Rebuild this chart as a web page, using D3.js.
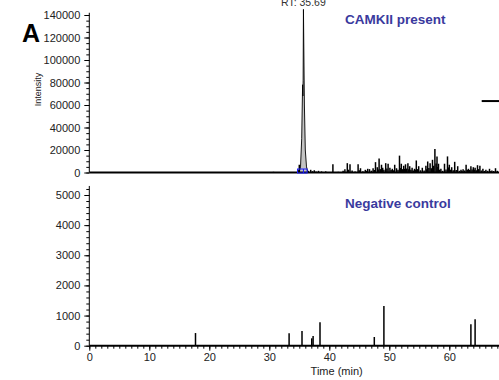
<!DOCTYPE html>
<html>
<head>
<meta charset="utf-8">
<script src="https://cdn.jsdelivr.net/npm/d3@7"></script>
<style>
  body { margin: 0; background: #fff; }
  svg { display: block; font-family: "Liberation Sans", Arial, sans-serif; }
</style>
</head>
<body>
<div id="chart"></div>
<script>
// tick labels
const timeTicks = [0, 10, 20, 30, 40, 50, 60];
const topTicks = [0, 20000, 40000, 60000, 80000, 100000, 120000, 140000];
const bottomTicks = [0, 1000, 2000, 3000, 4000, 5000];

// CAMKII present: integrated peak trace [time (min), intensity]
const peakTrace = [
  [34.95, 0], [35.2, 5000], [35.4, 30000], [35.55, 78000], [35.6, 68000],
  [35.64, 82000], [35.69, 145000], [35.85, 60000], [36.0, 20000],
  [36.2, 5000], [36.45, 0]
];
const peakRT = 35.69;
const peakBounds = [34.7, 36.3];

// CAMKII present: background spikes [time, intensity]
const topNoise = [
  [11.8, 500], [30.7, 600], [34.8, 2500], [35.0, 6900], [36.5, 1500], [36.9, 2400],
  [37.2, 1200], [37.5, 2000], [37.8, 900], [38.2, 1500], [38.7, 1000], [39.4, 1000],
  [40.6, 7400], [41.5, 600], [42.3, 1500], [42.6, 3000], [43.0, 8300], [43.2, 2500],
  [43.45, 7400], [43.8, 1800], [44.3, 1000], [44.8, 7400], [45.0, 2000], [45.2, 3800],
  [45.6, 1200], [46.0, 2400], [46.2, 1500], [46.4, 3300], [46.7, 3000], [47.0, 1600],
  [47.3, 3800], [47.5, 2200], [47.7, 9200], [48.0, 4700], [48.15, 2600], [48.3, 12500],
  [48.5, 3000], [48.7, 6900], [48.9, 4200], [49.1, 2500], [49.4, 8300], [49.6, 3500],
  [49.8, 7800], [50.1, 4200], [50.3, 2200], [50.5, 3300], [50.7, 2000], [50.9, 6900],
  [51.2, 3800], [51.45, 2500], [51.7, 15000], [51.85, 4000], [52.0, 7800], [52.2, 3000],
  [52.4, 6000], [52.55, 3200], [52.7, 7300], [52.9, 3500], [53.1, 8300], [53.25, 2800],
  [53.4, 5600], [53.6, 2500], [53.8, 4200], [54.0, 1800], [54.2, 3300], [54.35, 2500],
  [54.5, 10700], [54.7, 3000], [54.9, 5600], [55.2, 2000], [55.5, 4200], [55.8, 1800],
  [56.1, 6000], [56.25, 3000], [56.4, 9800], [56.6, 4000], [56.8, 8300], [57.0, 3800],
  [57.2, 11300], [57.4, 6000], [57.6, 21000], [57.8, 8000], [57.95, 14300], [58.1, 5000],
  [58.2, 7800], [58.4, 2500], [58.6, 3300], [58.9, 1500], [59.2, 7800], [59.45, 2600],
  [59.7, 14300], [59.85, 4500], [60.0, 6900], [60.2, 2500], [60.4, 4700], [60.65, 2000],
  [60.9, 9500], [61.15, 2200], [61.4, 5600], [61.7, 1500], [61.95, 2400], [62.1, 1400],
  [62.3, 3000], [62.55, 1800], [62.8, 6900], [63.0, 2500], [63.2, 3300], [63.4, 2200],
  [63.6, 5600], [63.8, 2600], [64.0, 4700], [64.15, 2400], [64.3, 4200], [64.5, 2000],
  [64.7, 6500], [64.9, 3000], [65.1, 6000], [65.35, 1800], [65.6, 3300], [65.85, 1400],
  [66.1, 2400], [66.4, 1500], [66.7, 3300], [66.9, 1200], [67.1, 1800], [67.4, 1300],
  [67.7, 3800], [68.0, 1500]
];

// Negative control spikes [time, intensity]
const bottomPeaks = [
  [17.7, 420], [33.3, 411], [35.45, 488], [37.07, 245], [37.3, 322],
  [38.45, 776], [47.5, 289], [49.1, 1317], [63.6, 710], [64.3, 876]
];

// cut-off marker on the right of the top panel
const markerLevel = 63500;
const markerStart = 65.4;

const width = 499, height = 380;

const svg = d3.select("#chart").append("svg")
  .attr("width", width)
  .attr("height", height);

const x = d3.scaleLinear().domain([0, 70]).range([89.3, 509.3]);
const yTop = d3.scaleLinear().domain([0, 140000]).range([172.5, 15]);
const yBot = d3.scaleLinear().domain([0, 5000]).range([345.7, 195]);

function styleAxis(g) {
  g.select(".domain").remove();
  g.selectAll("line").attr("stroke", "#000");
  g.selectAll("text").attr("fill", "#222").attr("font-size", 11)
    .attr("font-family", "'Liberation Sans', Arial, sans-serif");
}

// ---- top panel ----
svg.append("g")
  .attr("transform", "translate(" + x(0) + ",0)")
  .call(d3.axisLeft(yTop).tickValues(d3.range(0, 142500, 5000)).tickSize(3).tickFormat(""))
  .call(styleAxis);
svg.append("g")
  .attr("transform", "translate(" + x(0) + ",0)")
  .call(d3.axisLeft(yTop).tickValues(topTicks).tickSize(5).tickPadding(4).tickFormat(d3.format("d")))
  .call(styleAxis);
svg.append("line")
  .attr("x1", x(0)).attr("x2", x(0))
  .attr("y1", yTop(0)).attr("y2", yTop(142000))
  .attr("stroke", "#000");

svg.append("path")
  .datum(peakTrace)
  .attr("fill", "#c4c4c4")
  .attr("d", d3.area().x(d => x(d[0])).y0(yTop(0)).y1(d => yTop(d[1])));
svg.append("path")
  .datum(peakTrace)
  .attr("fill", "none")
  .attr("stroke", "#000")
  .attr("stroke-width", 0.9)
  .attr("d", d3.line().x(d => x(d[0])).y(d => yTop(d[1])));

svg.append("g").selectAll("line")
  .data(topNoise)
  .join("line")
  .attr("x1", d => x(d[0])).attr("x2", d => x(d[0]))
  .attr("y1", yTop(0)).attr("y2", d => yTop(d[1]))
  .attr("stroke", "#000")
  .attr("stroke-width", 1.5);

svg.append("line")
  .attr("x1", x(0)).attr("x2", width)
  .attr("y1", yTop(0)).attr("y2", yTop(0))
  .attr("stroke", "#000").attr("stroke-width", 2);

// peak boundary markers
svg.append("rect")
  .attr("x", x(peakBounds[0]))
  .attr("y", yTop(0) - 3.5)
  .attr("width", x(peakBounds[1]) - x(peakBounds[0]))
  .attr("height", 4)
  .attr("fill", "none")
  .attr("stroke", "#1a1aff")
  .attr("stroke-width", 1);
svg.append("line")
  .attr("x1", x(peakRT)).attr("x2", x(peakRT))
  .attr("y1", yTop(0) - 3.5).attr("y2", yTop(0) + 0.5)
  .attr("stroke", "#1a1aff");

svg.append("line")
  .attr("x1", x(markerStart)).attr("x2", x(70))
  .attr("y1", yTop(markerLevel)).attr("y2", yTop(markerLevel))
  .attr("stroke", "#000").attr("stroke-width", 2);

// label sits at the top edge, partly cut off as in the source figure
svg.append("text")
  .attr("x", x(peakRT)).attr("y", 6)
  .attr("text-anchor", "middle")
  .attr("font-size", 10.5)
  .attr("fill", "#333")
  .text("RT: 35.69");

svg.append("text")
  .attr("x", 345).attr("y", 24)
  .attr("font-size", 13.5).attr("font-weight", "bold")
  .attr("fill", "#3a3a9e")
  .text("CAMKII present");

svg.append("text")
  .attr("x", 22).attr("y", 42)
  .attr("font-size", 25).attr("font-weight", "bold")
  .attr("font-family", "Arial, 'Liberation Sans', sans-serif")
  .attr("fill", "#000")
  .text("A");

svg.append("text")
  .attr("transform", "translate(40.5,89.5) rotate(-90)")
  .attr("text-anchor", "middle")
  .attr("font-size", 9)
  .attr("fill", "#222")
  .text("Intensity");

// ---- bottom panel ----
svg.append("g")
  .attr("transform", "translate(" + x(0) + ",0)")
  .call(d3.axisLeft(yBot).tickValues(d3.range(0, 5201, 200)).tickSize(3).tickFormat(""))
  .call(styleAxis);
svg.append("g")
  .attr("transform", "translate(" + x(0) + ",0)")
  .call(d3.axisLeft(yBot).tickValues(bottomTicks).tickSize(5).tickPadding(4).tickFormat(d3.format("d")))
  .call(styleAxis);
svg.append("line")
  .attr("x1", x(0)).attr("x2", x(0))
  .attr("y1", yBot(0)).attr("y2", yBot(5300))
  .attr("stroke", "#000");

svg.append("g").selectAll("line")
  .data(bottomPeaks)
  .join("line")
  .attr("x1", d => x(d[0])).attr("x2", d => x(d[0]))
  .attr("y1", yBot(0)).attr("y2", d => yBot(d[1]))
  .attr("stroke", "#000")
  .attr("stroke-width", 1.5);

svg.append("g")
  .attr("transform", "translate(0," + yBot(0) + ")")
  .call(d3.axisBottom(x).tickValues(d3.range(0, 71, 1)).tickSize(3).tickFormat(""))
  .call(styleAxis);
svg.append("g")
  .attr("transform", "translate(0," + yBot(0) + ")")
  .call(d3.axisBottom(x).tickValues(timeTicks).tickSize(5).tickPadding(3).tickFormat(d3.format("d")))
  .call(styleAxis);
svg.append("line")
  .attr("x1", x(0)).attr("x2", width)
  .attr("y1", yBot(0)).attr("y2", yBot(0))
  .attr("stroke", "#000").attr("stroke-width", 2);

svg.append("text")
  .attr("x", 345).attr("y", 208)
  .attr("font-size", 13.5).attr("font-weight", "bold")
  .attr("fill", "#3a3a9e")
  .text("Negative control");

svg.append("text")
  .attr("x", 336.7).attr("y", 375)
  .attr("text-anchor", "middle")
  .attr("font-size", 11)
  .attr("fill", "#222")
  .text("Time (min)");
</script>
</body>
</html>
